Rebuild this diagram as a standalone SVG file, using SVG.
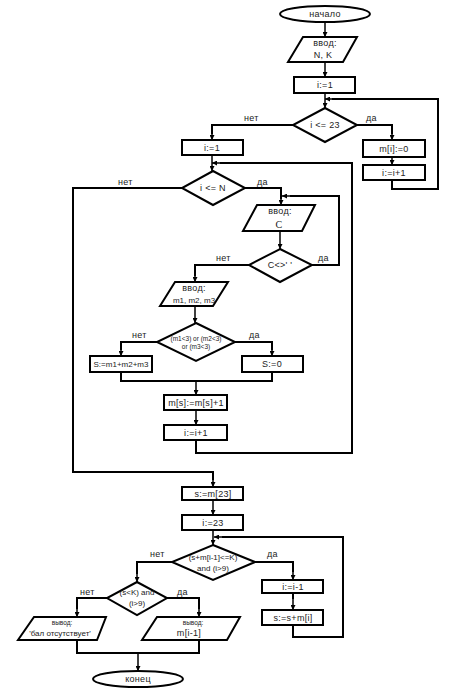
<svg xmlns="http://www.w3.org/2000/svg" width="455" height="700" viewBox="0 0 455 700">
<defs>
<marker id="ah" viewBox="0 0 6 6" refX="6" refY="3" markerWidth="5" markerHeight="5" markerUnits="userSpaceOnUse" orient="auto"><path d="M0,0 L6,3 L0,6 Z" fill="#000"/></marker>
</defs>
<style>
.s{fill:#fff;stroke:#000;stroke-width:2}
.c{fill:none;stroke:#000;stroke-width:2}
.a{fill:none;stroke:#000;stroke-width:1.5;marker-end:url(#ah)}
text{font-family:"Liberation Sans",Arial,sans-serif;font-size:9px;letter-spacing:0.3px;fill:#222;text-anchor:middle}
.sm{font-size:6.5px;letter-spacing:0}
.n{font-size:8px;letter-spacing:0}
.l{text-anchor:start}
</style>
<rect width="455" height="700" fill="#fff"/>
<g id="connectors">
<line class="a" x1="325" y1="22" x2="325" y2="37"/>
<line class="a" x1="325" y1="62" x2="325" y2="77"/>
<line class="a" x1="325" y1="93" x2="325" y2="108"/>
<polyline class="c" points="293,125 212,125 212,134"/>
<line class="a" x1="212" y1="130" x2="212" y2="140"/>
<polyline class="c" points="357,125 392,125 392,134"/>
<line class="a" x1="392" y1="130" x2="392" y2="140"/>
<line class="a" x1="392" y1="157" x2="392" y2="165"/>
<polyline class="c" points="392,180 392,189 438,189 438,99 332,99"/>
<line class="a" x1="334" y1="99" x2="325" y2="99"/>
<line class="a" x1="212" y1="155" x2="212" y2="171"/>
<polyline class="c" points="196,440 196,453 352,453 352,163 220,163"/>
<line class="a" x1="222" y1="163" x2="212" y2="163"/>
<polyline class="c" points="245,188 281,188 281,199"/>
<line class="a" x1="281" y1="196" x2="281" y2="205"/>
<polyline class="c" points="312,265 339,265 339,196 290,196"/>
<line class="a" x1="292" y1="196" x2="282" y2="196"/>
<line class="a" x1="280" y1="231" x2="280" y2="249"/>
<polyline class="c" points="249,265 195,265 195,276"/>
<line class="a" x1="195" y1="272" x2="195" y2="282"/>
<line class="a" x1="195" y1="306" x2="195" y2="323"/>
<polyline class="c" points="157,342 121,342 121,350"/>
<line class="a" x1="121" y1="346" x2="121" y2="356"/>
<polyline class="c" points="235,342 272,342 272,350"/>
<line class="a" x1="272" y1="346" x2="272" y2="356"/>
<polyline class="c" points="121,372 121,381 272,381 272,372"/>
<line class="a" x1="196" y1="381" x2="196" y2="395"/>
<line class="a" x1="196" y1="410" x2="196" y2="425"/>
<polyline class="c" points="182,188 73,188 73,472 213,472 213,480"/>
<line class="a" x1="213" y1="477" x2="213" y2="487"/>
<line class="a" x1="213" y1="500" x2="213" y2="515"/>
<line class="a" x1="213" y1="530" x2="213" y2="545"/>
<polyline class="c" points="293,593 293,599"/>
<line class="a" x1="293" y1="596" x2="293" y2="610"/>
<polyline class="c" points="293,625 293,637 343,637 343,537 222,537"/>
<line class="a" x1="224" y1="537" x2="214" y2="537"/>
<polyline class="c" points="255,562 293,562 293,572"/>
<line class="a" x1="293" y1="570" x2="293" y2="580"/>
<polyline class="c" points="172,562 137,562 137,574"/>
<line class="a" x1="137" y1="572" x2="137" y2="582"/>
<polyline class="c" points="107,598 77,598 77,609"/>
<line class="a" x1="77" y1="607" x2="77" y2="617"/>
<polyline class="c" points="167,598 199,598 199,609"/>
<line class="a" x1="199" y1="607" x2="199" y2="617"/>
<polyline class="c" points="77,640 77,653 199,653 199,640"/>
<line class="a" x1="138" y1="653" x2="138" y2="671"/>
</g>
<g id="start"><ellipse class="s" cx="325" cy="14" rx="45" ry="8"/><text x="325" y="17">начало</text></g>
<g id="inputNK"><polygon class="s" points="303,37 357,37 343,62 288,62"/><text x="325" y="46">ввод:</text><text x="323" y="58">N, K</text></g>
<g id="i1a"><rect class="s" x="294" y="77" width="61" height="16"/><text x="325" y="88">i:=1</text></g>
<g id="d23"><polygon class="s" points="325,108 357,125 325,142 293,125"/><text x="325" y="128">i &lt;= 23</text></g>
<text class="l" x="244" y="121">нет</text>
<text class="l" x="366" y="121">да</text>
<g id="i1b"><rect class="s" x="182" y="140" width="61" height="15"/><text x="212" y="151">i:=1</text></g>
<g id="mi0"><rect class="s" x="363" y="140" width="62" height="17"/><text x="394" y="152">m[i]:=0</text></g>
<g id="inc1"><rect class="s" x="363" y="165" width="62" height="15"/><text x="394" y="176">i:=i+1</text></g>
<g id="dN"><polygon class="s" points="213,171 245,188 213,205 182,188"/><text x="213" y="191">i &lt;= N</text></g>
<text class="l" x="118" y="185">нет</text>
<text class="l" x="257" y="185">да</text>
<g id="inputC"><polygon class="s" points="257,205 315,205 302,231 243,231"/><text x="280" y="214">ввод:</text><text x="279" y="228" style="font-family:'Liberation Serif',serif;font-size:10px">C</text></g>
<g id="dC"><polygon class="s" points="280,249 312,265 280,282 249,265"/><text x="280" y="268">C&lt;&gt;' '</text></g>
<text class="l" x="216" y="261">нет</text>
<text class="l" x="318" y="261">да</text>
<g id="inputM"><polygon class="s" points="175,282 228,282 213,306 160,306"/><text x="194" y="291">ввод:</text><text class="n" x="194" y="303">m1, m2, m3</text></g>
<g id="dM"><polygon class="s" points="196,323 235,342 196,361 157,342"/><text class="sm" x="196" y="341">(m1&lt;3) or (m2&lt;3)</text><text class="sm" x="196" y="349">or (m3&lt;3)</text></g>
<text class="l" x="132" y="338">нет</text>
<text class="l" x="249" y="338">да</text>
<g id="sSum"><rect class="s" x="90" y="356" width="62" height="16"/><text class="n" x="121" y="367">S:=m1+m2+m3</text></g>
<g id="s0"><rect class="s" x="242" y="356" width="61" height="16"/><text x="272" y="367">S:=0</text></g>
<g id="ms"><rect class="s" x="164" y="395" width="63" height="15"/><text x="196" y="406">m[s]:=m[s]+1</text></g>
<g id="inc2"><rect class="s" x="164" y="425" width="63" height="15"/><text x="196" y="436">i:=i+1</text></g>
<g id="s23"><rect class="s" x="182" y="487" width="61" height="13"/><text x="213" y="497">s:=m[23]</text></g>
<g id="i23"><rect class="s" x="182" y="515" width="61" height="15"/><text x="213" y="526">i:=23</text></g>
<g id="dS"><polygon class="s" points="213,545 255,562 213,580 172,562"/><text class="n" x="213" y="560">(s+m[i-1]&lt;=K)</text><text class="n" x="213" y="571">and (i&gt;9)</text></g>
<text class="l" x="150" y="557">нет</text>
<text class="l" x="267" y="557">да</text>
<g id="dec"><rect class="s" x="262" y="580" width="61" height="13"/><text x="293" y="590">i:=i-1</text></g>
<g id="sadd"><rect class="s" x="262" y="610" width="61" height="15"/><text x="293" y="621">s:=s+m[i]</text></g>
<g id="dK"><polygon class="s" points="137,582 167,598 137,615 107,598"/><text class="n" x="137" y="595">(s&lt;K) and</text><text class="n" x="137" y="606">(i&gt;9)</text></g>
<text class="l" x="80" y="595">нет</text>
<text class="l" x="177" y="595">да</text>
<g id="out1"><polygon class="s" points="34,617 106,617 97,640 18,640"/><text class="sm" x="62" y="625">вывод:</text><text x="60" y="636" style="font-size:8px;letter-spacing:0">'бал отсутствует'</text></g>
<g id="out2"><polygon class="s" points="157,617 240,617 227,640 142,640"/><text class="sm" x="193" y="625">вывод:</text><text x="189" y="636">m[i-1]</text></g>
<g id="end"><ellipse class="s" cx="138" cy="679" rx="45" ry="8"/><text x="138" y="682">конец</text></g>
</svg>
